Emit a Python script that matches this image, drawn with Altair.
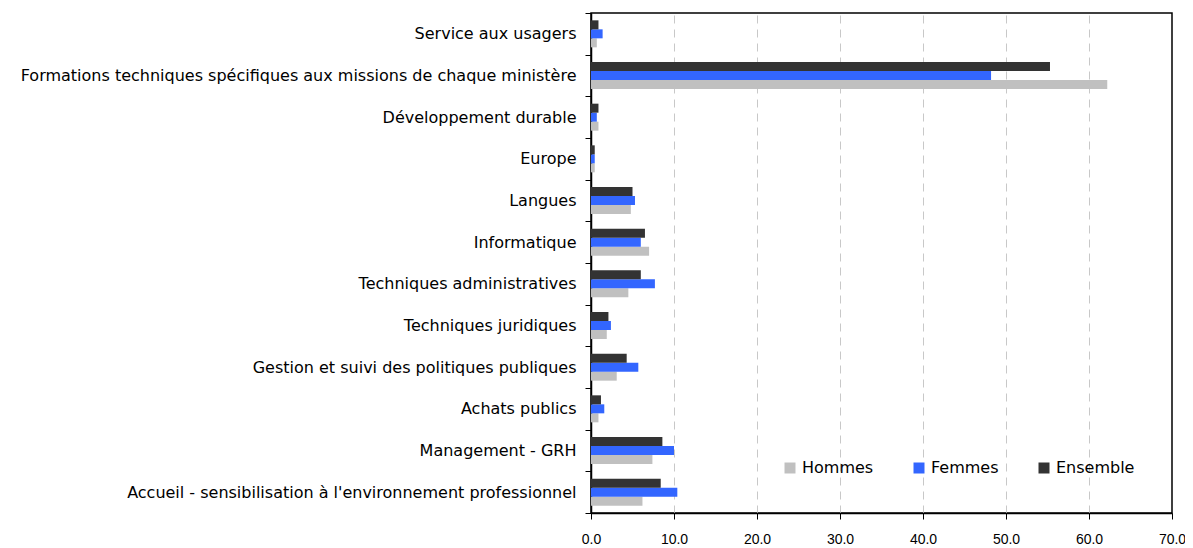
import altair as alt
import pandas as pd

categories = [
    "Service aux usagers",
    "Formations techniques spécifiques aux missions de chaque ministère",
    "Développement durable",
    "Europe",
    "Langues",
    "Informatique",
    "Techniques administratives",
    "Techniques juridiques",
    "Gestion et suivi des politiques publiques",
    "Achats publics",
    "Management - GRH",
    "Accueil - sensibilisation à l'environnement professionnel",
]
hommes = [0.7, 62.2, 0.9, 0.45, 4.8, 7.0, 4.5, 1.9, 3.1, 0.9, 7.4, 6.2]
femmes = [1.4, 48.2, 0.7, 0.45, 5.3, 6.0, 7.7, 2.4, 5.7, 1.6, 10.0, 10.4]
ensemble = [0.9, 55.3, 0.9, 0.45, 5.0, 6.5, 6.0, 2.1, 4.3, 1.2, 8.6, 8.4]

series = ["Hommes", "Femmes", "Ensemble"]
colors = ["#c0c0c0", "#3366ff", "#333333"]
x_ticks = [0, 10, 20, 30, 40, 50, 60, 70]

rows = []
for name, vals in zip(series, [hommes, femmes, ensemble]):
    for c, v in zip(categories, vals):
        rows.append({"categorie": c, "serie": name, "valeur": v})
df = pd.DataFrame(rows)

LABEL_FONT = "DejaVu Sans"
NUM_FONT = "Liberation Sans"

chart = alt.Chart(df).mark_bar().encode(
    x=alt.X(
        "valeur:Q",
        scale=alt.Scale(domain=[0, 70], nice=False, zero=True),
        axis=alt.Axis(
            values=x_ticks, format=".1f", title=None,
            grid=True, gridColor="#c8c8c8", gridDash=[8, 6], gridWidth=1,
            gridOpacity={"condition": {"test": "datum.value <= 0 || datum.value >= 70", "value": 0}, "value": 1},
            domainColor="black", domainWidth=1.5,
            tickColor="black", tickSize=6, tickWidth=1,
            labelFont=NUM_FONT, labelFontSize=14, labelColor="black", labelPadding=13,
            labelFlush=False, labelOverlap=False,
        ),
    ),
    y=alt.Y(
        "categorie:N", sort=categories,
        scale=alt.Scale(paddingInner=0, paddingOuter=0),
        axis=alt.Axis(
            title=None, tickBand="extent", grid=False,
            domainColor="black", domainWidth=1.5,
            tickColor="black", tickSize=6, tickWidth=1,
            labelFont=LABEL_FONT, labelFontSize=16, labelColor="black", labelPadding=9,
            labelLimit=800,
        ),
    ),
    yOffset=alt.YOffset(
        "serie:N", sort=["Ensemble", "Femmes", "Hommes"],
        scale=alt.Scale(paddingInner=0, paddingOuter=0.815),
    ),
    color=alt.Color(
        "serie:N",
        scale=alt.Scale(domain=series, range=colors),
        legend=alt.Legend(
            title=None, orient="none", direction="horizontal",
            legendX=191, legendY=447, padding=0,
            symbolType="square", symbolSize=121, symbolStrokeWidth=0,
            labelFont=LABEL_FONT, labelFontSize=16, labelColor="black",
            labelOffset=4, columnPadding=37,
        ),
    ),
).properties(
    width=581, height=500,
    autosize=alt.AutoSizeParams(type="none"),
    padding={"left": 583, "top": 5, "right": 13, "bottom": 35},
).configure_view(
    stroke="black", strokeWidth=1.5
)

chart.save("out.html", embed_options={"renderer": "svg", "actions": False})
